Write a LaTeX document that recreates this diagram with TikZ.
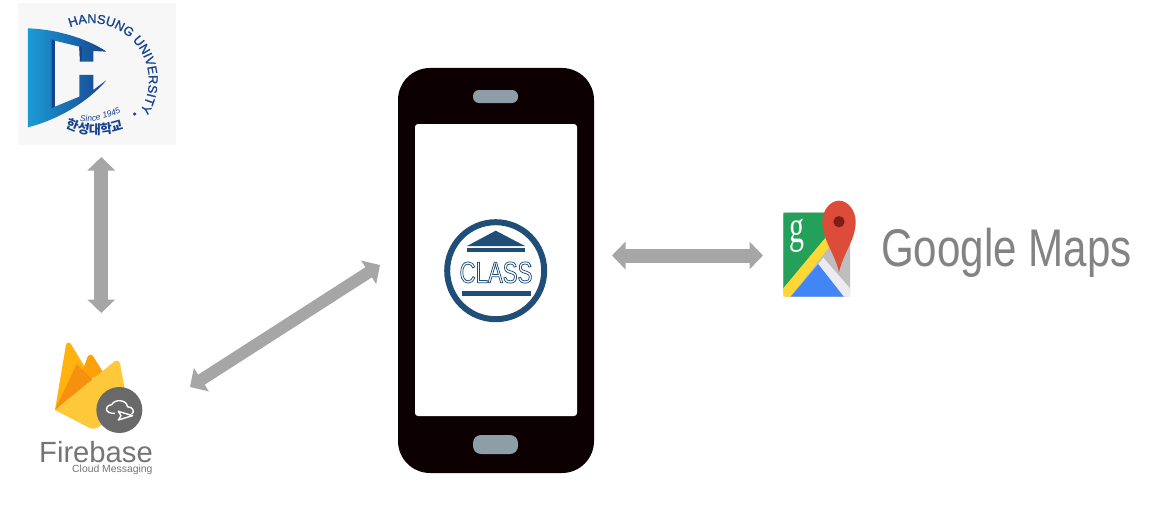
\documentclass[tikz,border=0pt]{standalone}
\usepackage{fontspec}
\setmainfont{Liberation Sans}
\newfontfamily\krfont{Noto Sans CJK KR}
\newfontfamily\libserif[FakeStretch=0.65]{Liberation Serif}
\newfontfamily\mapsfont[FakeStretch=0.795]{Liberation Sans}
\newfontfamily\classfont[FakeStretch=0.74]{Liberation Sans}
\usetikzlibrary{arrows.meta,decorations.text}
\definecolor{arrowgray}{HTML}{A6A6A6}
\definecolor{phoneblack}{HTML}{0D0003}
\definecolor{phonegray}{HTML}{8E9EA6}
\definecolor{classblue}{HTML}{1F4E79}
\definecolor{hsnavy}{HTML}{17438F}
\definecolor{hslight}{HTML}{1C9AD6}
\definecolor{logotext}{HTML}{757575}
\definecolor{mapgreen}{HTML}{23A05A}
\definecolor{mapgray}{HTML}{BEBEBE}
\definecolor{mapyellow}{HTML}{FDD835}
\definecolor{mapblue}{HTML}{4285F4}
\definecolor{mapwhite}{HTML}{ECECF0}
\definecolor{mapred}{HTML}{DD4B39}
\definecolor{mapdark}{HTML}{7D1E19}
\definecolor{fireA}{HTML}{FFB30F}
\definecolor{fireB}{HTML}{FDA00A}
\definecolor{fireC}{HTML}{F6900F}
\definecolor{fireD}{HTML}{FDC93B}
\tikzset{
  link/.style={draw=arrowgray,line width=#1,{Triangle[width=27pt,length=13.5pt]}-{Triangle[width=27pt,length=13.5pt]}},
  link/.default=14pt,
  zoomed/.style={x=0.3333pt,y=-0.3333pt},
  phonebtn/.style={fill=phonegray,draw=none,inner sep=0pt},
  logolabel/.style={text=logotext,inner sep=0pt,anchor=base west},
}
\begin{document}
\begin{tikzpicture}[x=1pt,y=-1pt]
\useasboundingbox (0,0) rectangle (1162,519);
\fill[white] (0,0) rectangle (1162,519);

% Named nodes
\node[fill=black!3,minimum width=158pt,minimum height=142pt,inner sep=0pt] (hansung) at (97,74) {};
\node[fill=phoneblack,rounded corners=32pt,minimum width=196pt,minimum height=405pt,inner sep=0pt] (phone) at (496,270.5) {};
\node[fill=white,rounded corners=3pt,minimum width=162pt,minimum height=292pt,inner sep=0pt] (screen) at (496,270) {};
\node[phonebtn,rounded corners=6pt,minimum width=45pt,minimum height=13pt] (speaker) at (495.5,96.5) {};
\node[phonebtn,rounded corners=8pt,minimum width=45pt,minimum height=19pt] (home) at (495.5,444.5) {};

% Hansung logo
\begin{scope}[zoomed]
  \shade[left color=hslight,right color=hsnavy]
    (84,85) .. controls (170,88) and (260,115) .. (320,155)
    -- (280,153) -- (280,185) -- (240,185) -- (238,140) -- (165,122) -- (165,320)
    -- (238,290) -- (238,225) -- (280,225) -- (280,270) -- (320,240)
    .. controls (260,310) and (170,360) .. (84,382) -- cycle;
  \fill[hsnavy] (155,118) -- (165,122) -- (165,320) -- (155,325) -- cycle;
  \fill[hsnavy] (238,140) -- (246,140) -- (246,178) -- (240,185) -- cycle;
  \path[decorate,decoration={text along path,text align={left},
      text={|\addfontfeature{FakeBold=1.2}\color{hsnavy}\fontsize{12.8}{13}\selectfont|HANSUNG UNIVERSITY}}]
    (210,82) arc[start angle=-112,end angle=34,radius=172];
  \path[decorate,decoration={text along path,text align={left},
      text={|\itshape\color{hsnavy}\fontsize{8.5}{9}\selectfont|Since 1945}}]
    (240,364) .. controls (280,368) and (330,354) .. (364,336);
  \path[decorate,decoration={text along path,text align={left},
      text={|\krfont\bfseries\color{hsnavy}\fontsize{13}{13}\selectfont|한성대학교}}]
    (198,382) .. controls (250,412) and (340,408) .. (397,376);
  \fill[hsnavy] (404,342) circle[radius=5];
\end{scope}

% Firebase logo
\begin{scope}[shift={(20,330)},zoomed]
  \fill[fireA]
    (105,240) -- (138,44) .. controls (142,36) and (150,36) .. (154,44) -- (218,150) -- cycle;
  \fill[fireB]
    (170,170) -- (203,80) .. controls (208,72) and (216,72) .. (220,80) -- (250,128) -- cycle;
  \fill[fireC]
    (105,240) -- (170,102) -- (218,150) -- (170,195) -- cycle;
  \fill[fireD]
    (105,240) -- (285,93) .. controls (292,88) and (298,92) .. (300,100) -- (326,240)
    -- (240,288) .. controls (228,298) and (215,298) .. (205,292) -- cycle;
  \node[fill=logotext!90!black,circle,minimum size=46pt,inner sep=0pt] (fcm) at (298,240) {};
  \draw[white,line width=1.4pt,line join=round]
    (285,250) .. controls (255,252) and (250,228) .. (275,224)
    .. controls (285,205) and (322,210) .. (322,230) .. controls (340,230) and (345,248) .. (335,252);
  \draw[white,fill=logotext!90!black,line width=1.4pt,line join=round]
    (295,244) -- (338,257) -- (295,270) -- (303,257) -- cycle;
\end{scope}
\node[logolabel,font=\fontsize{29.2}{30}\selectfont] (firebase) at (39,462) {Firebase};
\node[logolabel,font=\fontsize{10.4}{11}\selectfont] (fcmtext) at (72,472) {Cloud Messaging};

% CLASS logo
\node[circle,draw=classblue,line width=6pt,minimum size=97pt,inner sep=0pt] (class) at (495.7,270.7) {};
\fill[classblue] (467,246) -- (495.7,230.7) -- (525,246) -- cycle;
\fill[classblue] (467,247.7) rectangle (525,252.3);
\fill[classblue] (462,291) rectangle (531,296);
\node[inner sep=0pt,text=white,font=\classfont\addfontfeature{FakeBold=2.5}\fontsize{30}{30}\selectfont] (classtext) at (496,272.5)
  {\special{pdf:code 0.12 0.31 0.47 RG}CLASS};

% Google Maps logo
\begin{scope}[shift={(770,190)},zoomed]
  \fill[mapgray,rounded corners=3pt] (40,68) rectangle (240,320);
  \fill[mapgreen] (40,68) -- (165,68) -- (165,145) -- (40,295) -- cycle;
  \fill[mapyellow] (40,295) -- (165,145) -- (182,165) -- (62,320) -- (40,320) -- cycle;
  \fill[mapblue] (62,320) -- (145,222) -- (222,320) -- cycle;
  \fill[mapwhite] (145,222) -- (160,203) -- (240,295) -- (240,320) -- (222,320) -- cycle;
  \fill[mapred]
    (207,247) .. controls (195,190) and (157,150) .. (157,95)
    .. controls (157,62) and (180,32) .. (207,32)
    .. controls (234,32) and (257,62) .. (257,95)
    .. controls (257,150) and (219,190) .. (207,247) -- cycle;
  \fill[mapdark] (207,95) circle[radius=17];
  \node[text=white,inner sep=0pt,font=\libserif\fontsize{46}{46}\selectfont] (gmark) at (82,137) {g};
\end{scope}
\node[logolabel,font=\mapsfont\fontsize{53}{53}\selectfont,text=logotext!90] (maps) at (881,266.7) {Google Maps};

% Connector ends
\coordinate (hsend) at (101.3,157);
\coordinate (fbtop) at (101.3,313);
\coordinate (fbside) at (190,387);
\coordinate (phleft) at (380,265);
\coordinate (phright) at (612,255.5);
\coordinate (mapleft) at (763,255.5);
\draw[link] (hsend) -- (fbtop);
\draw[link=12pt] (fbside) -- (phleft);
\draw[link] (phright) -- (mapleft);
\end{tikzpicture}
\end{document}
